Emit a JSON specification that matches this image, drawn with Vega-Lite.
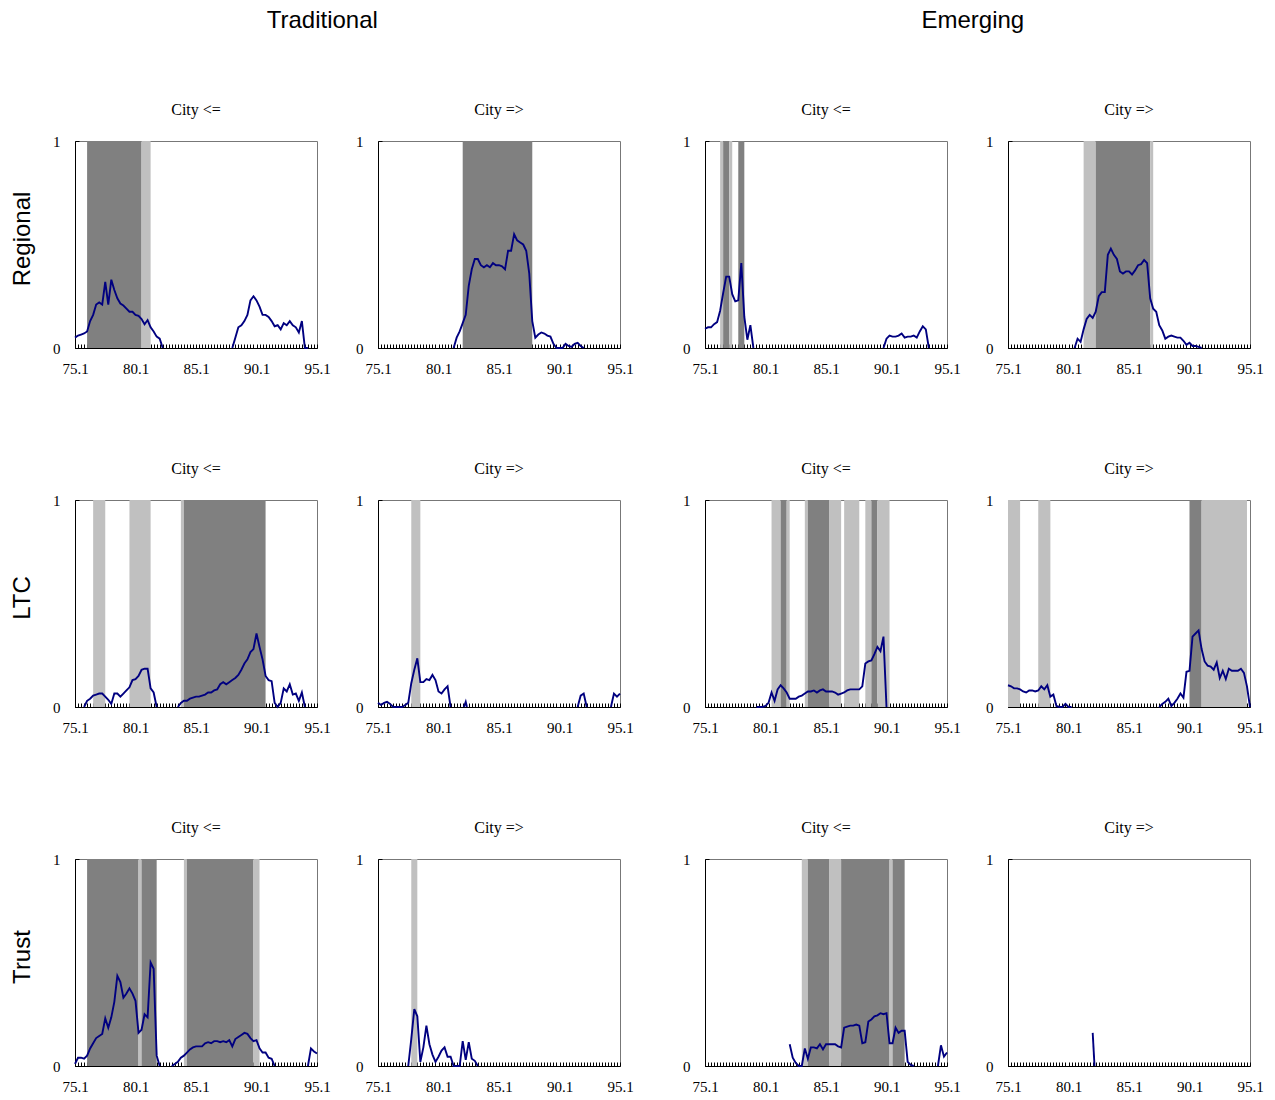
{
"$schema": "https://vega.github.io/schema/vega-lite/v6.json",
"padding": {"left": 11, "top": 8, "right": 5, "bottom": 5},
"background": "white",
"datasets": {
"shade": [
{"p":"a1","t":76.0,"t2":80.5,"k":"dark"},{"p":"a1","t":80.5,"t2":81.25,"k":"light"},
{"p":"a2","t":82.0,"t2":87.75,"k":"dark"},
{"p":"a3","t":76.25,"t2":76.5,"k":"light"},{"p":"a3","t":76.5,"t2":77.0,"k":"dark"},{"p":"a3","t":77.0,"t2":77.25,"k":"light"},{"p":"a3","t":77.75,"t2":78.25,"k":"dark"},
{"p":"a4","t":81.25,"t2":82.25,"k":"light"},{"p":"a4","t":82.25,"t2":86.75,"k":"dark"},{"p":"a4","t":86.75,"t2":87.0,"k":"light"},
{"p":"b1","t":76.5,"t2":77.5,"k":"light"},{"p":"b1","t":79.5,"t2":81.25,"k":"light"},{"p":"b1","t":83.75,"t2":84.0,"k":"light"},{"p":"b1","t":84.0,"t2":90.75,"k":"dark"},
{"p":"b2","t":77.75,"t2":78.5,"k":"light"},
{"p":"b3","t":80.5,"t2":81.25,"k":"light"},{"p":"b3","t":81.25,"t2":81.75,"k":"dark"},{"p":"b3","t":81.75,"t2":82.0,"k":"light"},{"p":"b3","t":83.25,"t2":83.5,"k":"light"},{"p":"b3","t":83.5,"t2":85.25,"k":"dark"},{"p":"b3","t":85.25,"t2":86.25,"k":"light"},{"p":"b3","t":86.5,"t2":87.75,"k":"light"},{"p":"b3","t":88.25,"t2":88.75,"k":"light"},{"p":"b3","t":88.75,"t2":89.25,"k":"dark"},{"p":"b3","t":89.25,"t2":90.25,"k":"light"},
{"p":"b4","t":75.0,"t2":76.0,"k":"light"},{"p":"b4","t":77.5,"t2":78.5,"k":"light"},{"p":"b4","t":90.0,"t2":91.0,"k":"dark"},{"p":"b4","t":91.0,"t2":94.75,"k":"light"},
{"p":"c1","t":76.0,"t2":80.25,"k":"dark"},{"p":"c1","t":80.25,"t2":80.5,"k":"light"},{"p":"c1","t":80.5,"t2":81.75,"k":"dark"},{"p":"c1","t":84.0,"t2":84.25,"k":"light"},{"p":"c1","t":84.25,"t2":89.75,"k":"dark"},{"p":"c1","t":89.75,"t2":90.25,"k":"light"},
{"p":"c2","t":77.75,"t2":78.25,"k":"light"},
{"p":"c3","t":83.0,"t2":83.5,"k":"light"},{"p":"c3","t":83.5,"t2":85.25,"k":"dark"},{"p":"c3","t":85.25,"t2":86.25,"k":"light"},{"p":"c3","t":86.25,"t2":90.25,"k":"dark"},{"p":"c3","t":90.25,"t2":90.5,"k":"light"},{"p":"c3","t":90.5,"t2":91.5,"k":"dark"}
],
"series": [
{"p":"a1","g":1,"t":75,"v":0.05},{"p":"a1","g":1,"t":75.25,"v":0.06},{"p":"a1","g":1,"t":75.5,"v":0.065},{"p":"a1","g":1,"t":75.75,"v":0.07},{"p":"a1","g":1,"t":76,"v":0.08},{"p":"a1","g":1,"t":76.25,"v":0.13},{"p":"a1","g":1,"t":76.5,"v":0.16},{"p":"a1","g":1,"t":76.75,"v":0.21},{"p":"a1","g":1,"t":77,"v":0.22},{"p":"a1","g":1,"t":77.25,"v":0.21},{"p":"a1","g":1,"t":77.5,"v":0.32},{"p":"a1","g":1,"t":77.75,"v":0.21},{"p":"a1","g":1,"t":78,"v":0.33},{"p":"a1","g":1,"t":78.25,"v":0.28},{"p":"a1","g":1,"t":78.5,"v":0.24},{"p":"a1","g":1,"t":78.75,"v":0.215},{"p":"a1","g":1,"t":79,"v":0.205},{"p":"a1","g":1,"t":79.25,"v":0.19},{"p":"a1","g":1,"t":79.5,"v":0.175},{"p":"a1","g":1,"t":79.75,"v":0.175},{"p":"a1","g":1,"t":80,"v":0.16},{"p":"a1","g":1,"t":80.25,"v":0.155},{"p":"a1","g":1,"t":80.5,"v":0.14},{"p":"a1","g":1,"t":80.75,"v":0.115},{"p":"a1","g":1,"t":81,"v":0.135},{"p":"a1","g":1,"t":81.25,"v":0.1},{"p":"a1","g":1,"t":81.5,"v":0.08},{"p":"a1","g":1,"t":81.75,"v":0.055},{"p":"a1","g":1,"t":82,"v":0.045},{"p":"a1","g":1,"t":82.25,"v":0},
{"p":"a1","g":2,"t":88,"v":0},{"p":"a1","g":2,"t":88.25,"v":0.05},{"p":"a1","g":2,"t":88.5,"v":0.1},{"p":"a1","g":2,"t":88.75,"v":0.11},{"p":"a1","g":2,"t":89,"v":0.13},{"p":"a1","g":2,"t":89.25,"v":0.16},{"p":"a1","g":2,"t":89.5,"v":0.23},{"p":"a1","g":2,"t":89.75,"v":0.25},{"p":"a1","g":2,"t":90,"v":0.23},{"p":"a1","g":2,"t":90.25,"v":0.2},{"p":"a1","g":2,"t":90.5,"v":0.16},{"p":"a1","g":2,"t":90.75,"v":0.16},{"p":"a1","g":2,"t":91,"v":0.15},{"p":"a1","g":2,"t":91.25,"v":0.13},{"p":"a1","g":2,"t":91.5,"v":0.105},{"p":"a1","g":2,"t":91.75,"v":0.11},{"p":"a1","g":2,"t":92,"v":0.09},{"p":"a1","g":2,"t":92.25,"v":0.12},{"p":"a1","g":2,"t":92.5,"v":0.11},{"p":"a1","g":2,"t":92.75,"v":0.13},{"p":"a1","g":2,"t":93,"v":0.11},{"p":"a1","g":2,"t":93.25,"v":0.1},{"p":"a1","g":2,"t":93.5,"v":0.075},{"p":"a1","g":2,"t":93.75,"v":0.13},{"p":"a1","g":2,"t":94,"v":0},{"p":"a1","g":2,"t":94.25,"v":0},
{"p":"a2","g":1,"t":81.25,"v":0},{"p":"a2","g":1,"t":81.5,"v":0.05},{"p":"a2","g":1,"t":81.75,"v":0.08},{"p":"a2","g":1,"t":82,"v":0.12},{"p":"a2","g":1,"t":82.25,"v":0.16},{"p":"a2","g":1,"t":82.5,"v":0.3},{"p":"a2","g":1,"t":82.75,"v":0.38},{"p":"a2","g":1,"t":83,"v":0.43},{"p":"a2","g":1,"t":83.25,"v":0.43},{"p":"a2","g":1,"t":83.5,"v":0.4},{"p":"a2","g":1,"t":83.75,"v":0.39},{"p":"a2","g":1,"t":84,"v":0.4},{"p":"a2","g":1,"t":84.25,"v":0.39},{"p":"a2","g":1,"t":84.5,"v":0.41},{"p":"a2","g":1,"t":84.75,"v":0.4},{"p":"a2","g":1,"t":85,"v":0.4},{"p":"a2","g":1,"t":85.25,"v":0.395},{"p":"a2","g":1,"t":85.5,"v":0.38},{"p":"a2","g":1,"t":85.75,"v":0.47},{"p":"a2","g":1,"t":86,"v":0.47},{"p":"a2","g":1,"t":86.25,"v":0.55},{"p":"a2","g":1,"t":86.5,"v":0.52},{"p":"a2","g":1,"t":86.75,"v":0.51},{"p":"a2","g":1,"t":87,"v":0.5},{"p":"a2","g":1,"t":87.25,"v":0.47},{"p":"a2","g":1,"t":87.5,"v":0.36},{"p":"a2","g":1,"t":87.75,"v":0.13},{"p":"a2","g":1,"t":88,"v":0.05},{"p":"a2","g":1,"t":88.25,"v":0.065},{"p":"a2","g":1,"t":88.5,"v":0.075},{"p":"a2","g":1,"t":88.75,"v":0.07},{"p":"a2","g":1,"t":89,"v":0.06},{"p":"a2","g":1,"t":89.25,"v":0.055},{"p":"a2","g":1,"t":89.5,"v":0.02},{"p":"a2","g":1,"t":89.75,"v":0},{"p":"a2","g":1,"t":90,"v":0},{"p":"a2","g":1,"t":90.25,"v":0},{"p":"a2","g":1,"t":90.5,"v":0.02},{"p":"a2","g":1,"t":90.75,"v":0.01},{"p":"a2","g":1,"t":91,"v":0.005},{"p":"a2","g":1,"t":91.25,"v":0.02},{"p":"a2","g":1,"t":91.5,"v":0.025},{"p":"a2","g":1,"t":91.75,"v":0.01},{"p":"a2","g":1,"t":92,"v":0},
{"p":"a3","g":1,"t":75,"v":0.093},{"p":"a3","g":1,"t":75.25,"v":0.1},{"p":"a3","g":1,"t":75.5,"v":0.1},{"p":"a3","g":1,"t":75.75,"v":0.115},{"p":"a3","g":1,"t":76,"v":0.125},{"p":"a3","g":1,"t":76.25,"v":0.18},{"p":"a3","g":1,"t":76.5,"v":0.265},{"p":"a3","g":1,"t":76.75,"v":0.345},{"p":"a3","g":1,"t":77,"v":0.345},{"p":"a3","g":1,"t":77.25,"v":0.26},{"p":"a3","g":1,"t":77.5,"v":0.225},{"p":"a3","g":1,"t":77.75,"v":0.23},{"p":"a3","g":1,"t":78,"v":0.41},{"p":"a3","g":1,"t":78.25,"v":0.15},{"p":"a3","g":1,"t":78.5,"v":0.04},{"p":"a3","g":1,"t":78.75,"v":0.11},{"p":"a3","g":1,"t":79,"v":0},
{"p":"a3","g":2,"t":89.75,"v":0},{"p":"a3","g":2,"t":90,"v":0.045},{"p":"a3","g":2,"t":90.25,"v":0.06},{"p":"a3","g":2,"t":90.5,"v":0.055},{"p":"a3","g":2,"t":90.75,"v":0.055},{"p":"a3","g":2,"t":91,"v":0.06},{"p":"a3","g":2,"t":91.25,"v":0.07},{"p":"a3","g":2,"t":91.5,"v":0.05},{"p":"a3","g":2,"t":91.75,"v":0.055},{"p":"a3","g":2,"t":92,"v":0.055},{"p":"a3","g":2,"t":92.25,"v":0.06},{"p":"a3","g":2,"t":92.5,"v":0.05},{"p":"a3","g":2,"t":92.75,"v":0.08},{"p":"a3","g":2,"t":93,"v":0.105},{"p":"a3","g":2,"t":93.25,"v":0.09},{"p":"a3","g":2,"t":93.5,"v":0},
{"p":"a4","g":1,"t":80.5,"v":0},{"p":"a4","g":1,"t":80.75,"v":0.045},{"p":"a4","g":1,"t":81,"v":0.03},{"p":"a4","g":1,"t":81.25,"v":0.09},{"p":"a4","g":1,"t":81.5,"v":0.14},{"p":"a4","g":1,"t":81.75,"v":0.16},{"p":"a4","g":1,"t":82,"v":0.145},{"p":"a4","g":1,"t":82.25,"v":0.175},{"p":"a4","g":1,"t":82.5,"v":0.25},{"p":"a4","g":1,"t":82.75,"v":0.27},{"p":"a4","g":1,"t":83,"v":0.27},{"p":"a4","g":1,"t":83.25,"v":0.45},{"p":"a4","g":1,"t":83.5,"v":0.48},{"p":"a4","g":1,"t":83.75,"v":0.45},{"p":"a4","g":1,"t":84,"v":0.43},{"p":"a4","g":1,"t":84.25,"v":0.37},{"p":"a4","g":1,"t":84.5,"v":0.36},{"p":"a4","g":1,"t":84.75,"v":0.37},{"p":"a4","g":1,"t":85,"v":0.37},{"p":"a4","g":1,"t":85.25,"v":0.355},{"p":"a4","g":1,"t":85.5,"v":0.375},{"p":"a4","g":1,"t":85.75,"v":0.4},{"p":"a4","g":1,"t":86,"v":0.405},{"p":"a4","g":1,"t":86.25,"v":0.425},{"p":"a4","g":1,"t":86.5,"v":0.41},{"p":"a4","g":1,"t":86.75,"v":0.24},{"p":"a4","g":1,"t":87,"v":0.19},{"p":"a4","g":1,"t":87.25,"v":0.175},{"p":"a4","g":1,"t":87.5,"v":0.11},{"p":"a4","g":1,"t":87.75,"v":0.085},{"p":"a4","g":1,"t":88,"v":0.045},{"p":"a4","g":1,"t":88.25,"v":0.055},{"p":"a4","g":1,"t":88.5,"v":0.06},{"p":"a4","g":1,"t":88.75,"v":0.055},{"p":"a4","g":1,"t":89,"v":0.05},{"p":"a4","g":1,"t":89.25,"v":0.05},{"p":"a4","g":1,"t":89.5,"v":0.035},{"p":"a4","g":1,"t":89.75,"v":0.015},{"p":"a4","g":1,"t":90,"v":0.025},{"p":"a4","g":1,"t":90.25,"v":0.01},{"p":"a4","g":1,"t":90.5,"v":0.01},{"p":"a4","g":1,"t":90.75,"v":0.005},{"p":"a4","g":1,"t":91,"v":0},
{"p":"b1","g":1,"t":75.75,"v":0},{"p":"b1","g":1,"t":76,"v":0.03},{"p":"b1","g":1,"t":76.25,"v":0.04},{"p":"b1","g":1,"t":76.5,"v":0.055},{"p":"b1","g":1,"t":76.75,"v":0.06},{"p":"b1","g":1,"t":77,"v":0.065},{"p":"b1","g":1,"t":77.25,"v":0.065},{"p":"b1","g":1,"t":77.5,"v":0.05},{"p":"b1","g":1,"t":77.75,"v":0.035},{"p":"b1","g":1,"t":78,"v":0.015},{"p":"b1","g":1,"t":78.25,"v":0.065},{"p":"b1","g":1,"t":78.5,"v":0.065},{"p":"b1","g":1,"t":78.75,"v":0.05},{"p":"b1","g":1,"t":79,"v":0.065},{"p":"b1","g":1,"t":79.25,"v":0.08},{"p":"b1","g":1,"t":79.5,"v":0.095},{"p":"b1","g":1,"t":79.75,"v":0.13},{"p":"b1","g":1,"t":80,"v":0.135},{"p":"b1","g":1,"t":80.25,"v":0.15},{"p":"b1","g":1,"t":80.5,"v":0.18},{"p":"b1","g":1,"t":80.75,"v":0.185},{"p":"b1","g":1,"t":81,"v":0.185},{"p":"b1","g":1,"t":81.25,"v":0.09},{"p":"b1","g":1,"t":81.5,"v":0.07},{"p":"b1","g":1,"t":81.75,"v":0},
{"p":"b1","g":2,"t":83.5,"v":0},{"p":"b1","g":2,"t":83.75,"v":0.02},{"p":"b1","g":2,"t":84,"v":0.03},{"p":"b1","g":2,"t":84.25,"v":0.03},{"p":"b1","g":2,"t":84.5,"v":0.04},{"p":"b1","g":2,"t":84.75,"v":0.045},{"p":"b1","g":2,"t":85,"v":0.05},{"p":"b1","g":2,"t":85.25,"v":0.05},{"p":"b1","g":2,"t":85.5,"v":0.055},{"p":"b1","g":2,"t":85.75,"v":0.06},{"p":"b1","g":2,"t":86,"v":0.07},{"p":"b1","g":2,"t":86.25,"v":0.07},{"p":"b1","g":2,"t":86.5,"v":0.08},{"p":"b1","g":2,"t":86.75,"v":0.085},{"p":"b1","g":2,"t":87,"v":0.11},{"p":"b1","g":2,"t":87.25,"v":0.12},{"p":"b1","g":2,"t":87.5,"v":0.11},{"p":"b1","g":2,"t":87.75,"v":0.12},{"p":"b1","g":2,"t":88,"v":0.13},{"p":"b1","g":2,"t":88.25,"v":0.14},{"p":"b1","g":2,"t":88.5,"v":0.155},{"p":"b1","g":2,"t":88.75,"v":0.18},{"p":"b1","g":2,"t":89,"v":0.21},{"p":"b1","g":2,"t":89.25,"v":0.23},{"p":"b1","g":2,"t":89.5,"v":0.265},{"p":"b1","g":2,"t":89.75,"v":0.28},{"p":"b1","g":2,"t":90,"v":0.355},{"p":"b1","g":2,"t":90.25,"v":0.29},{"p":"b1","g":2,"t":90.5,"v":0.23},{"p":"b1","g":2,"t":90.75,"v":0.15},{"p":"b1","g":2,"t":91,"v":0.13},{"p":"b1","g":2,"t":91.25,"v":0.125},{"p":"b1","g":2,"t":91.5,"v":0.02},{"p":"b1","g":2,"t":91.75,"v":0},{"p":"b1","g":2,"t":92,"v":0.02},{"p":"b1","g":2,"t":92.25,"v":0.09},{"p":"b1","g":2,"t":92.5,"v":0.075},{"p":"b1","g":2,"t":92.75,"v":0.11},{"p":"b1","g":2,"t":93,"v":0.06},{"p":"b1","g":2,"t":93.25,"v":0.065},{"p":"b1","g":2,"t":93.5,"v":0.03},{"p":"b1","g":2,"t":93.75,"v":0.07},{"p":"b1","g":2,"t":94,"v":0},
{"p":"b2","g":1,"t":75,"v":0.02},{"p":"b2","g":1,"t":75.25,"v":0.01},{"p":"b2","g":1,"t":75.5,"v":0.02},{"p":"b2","g":1,"t":75.75,"v":0.025},{"p":"b2","g":1,"t":76,"v":0.015},{"p":"b2","g":1,"t":76.25,"v":0},{"p":"b2","g":1,"t":76.5,"v":0},{"p":"b2","g":1,"t":76.75,"v":0},{"p":"b2","g":1,"t":77,"v":0},{"p":"b2","g":1,"t":77.25,"v":0.01},{"p":"b2","g":1,"t":77.5,"v":0.02},{"p":"b2","g":1,"t":77.75,"v":0.115},{"p":"b2","g":1,"t":78,"v":0.18},{"p":"b2","g":1,"t":78.25,"v":0.235},{"p":"b2","g":1,"t":78.5,"v":0.12},{"p":"b2","g":1,"t":78.75,"v":0.12},{"p":"b2","g":1,"t":79,"v":0.135},{"p":"b2","g":1,"t":79.25,"v":0.13},{"p":"b2","g":1,"t":79.5,"v":0.155},{"p":"b2","g":1,"t":79.75,"v":0.13},{"p":"b2","g":1,"t":80,"v":0.075},{"p":"b2","g":1,"t":80.25,"v":0.065},{"p":"b2","g":1,"t":80.5,"v":0.085},{"p":"b2","g":1,"t":80.75,"v":0.1},{"p":"b2","g":1,"t":81,"v":0},
{"p":"b2","g":2,"t":82.1,"v":0},{"p":"b2","g":2,"t":82.25,"v":0.025},{"p":"b2","g":2,"t":82.35,"v":0},
{"p":"b2","g":3,"t":91.5,"v":0},{"p":"b2","g":3,"t":91.75,"v":0.055},{"p":"b2","g":3,"t":92,"v":0.065},{"p":"b2","g":3,"t":92.25,"v":0},
{"p":"b2","g":4,"t":94.25,"v":0},{"p":"b2","g":4,"t":94.5,"v":0.065},{"p":"b2","g":4,"t":94.75,"v":0.05},{"p":"b2","g":4,"t":95,"v":0.065},
{"p":"b3","g":1,"t":79.25,"v":0},{"p":"b3","g":1,"t":79.5,"v":0},{"p":"b3","g":1,"t":79.75,"v":0},{"p":"b3","g":1,"t":80,"v":0.005},{"p":"b3","g":1,"t":80.25,"v":0.02},{"p":"b3","g":1,"t":80.5,"v":0.07},{"p":"b3","g":1,"t":80.75,"v":0.03},{"p":"b3","g":1,"t":81,"v":0.085},{"p":"b3","g":1,"t":81.25,"v":0.105},{"p":"b3","g":1,"t":81.5,"v":0.09},{"p":"b3","g":1,"t":81.75,"v":0.07},{"p":"b3","g":1,"t":82,"v":0.04},{"p":"b3","g":1,"t":82.25,"v":0.04},{"p":"b3","g":1,"t":82.5,"v":0.04},{"p":"b3","g":1,"t":82.75,"v":0.05},{"p":"b3","g":1,"t":83,"v":0.055},{"p":"b3","g":1,"t":83.25,"v":0.065},{"p":"b3","g":1,"t":83.5,"v":0.075},{"p":"b3","g":1,"t":83.75,"v":0.075},{"p":"b3","g":1,"t":84,"v":0.08},{"p":"b3","g":1,"t":84.25,"v":0.07},{"p":"b3","g":1,"t":84.5,"v":0.08},{"p":"b3","g":1,"t":84.75,"v":0.085},{"p":"b3","g":1,"t":85,"v":0.075},{"p":"b3","g":1,"t":85.25,"v":0.075},{"p":"b3","g":1,"t":85.5,"v":0.075},{"p":"b3","g":1,"t":85.75,"v":0.07},{"p":"b3","g":1,"t":86,"v":0.06},{"p":"b3","g":1,"t":86.25,"v":0.065},{"p":"b3","g":1,"t":86.5,"v":0.07},{"p":"b3","g":1,"t":86.75,"v":0.08},{"p":"b3","g":1,"t":87,"v":0.085},{"p":"b3","g":1,"t":87.25,"v":0.085},{"p":"b3","g":1,"t":87.5,"v":0.085},{"p":"b3","g":1,"t":87.75,"v":0.085},{"p":"b3","g":1,"t":88,"v":0.1},{"p":"b3","g":1,"t":88.25,"v":0.21},{"p":"b3","g":1,"t":88.5,"v":0.22},{"p":"b3","g":1,"t":88.75,"v":0.225},{"p":"b3","g":1,"t":89,"v":0.255},{"p":"b3","g":1,"t":89.25,"v":0.29},{"p":"b3","g":1,"t":89.5,"v":0.27},{"p":"b3","g":1,"t":89.75,"v":0.34},{"p":"b3","g":1,"t":90,"v":0},
{"p":"b4","g":1,"t":75,"v":0.105},{"p":"b4","g":1,"t":75.25,"v":0.1},{"p":"b4","g":1,"t":75.5,"v":0.09},{"p":"b4","g":1,"t":75.75,"v":0.09},{"p":"b4","g":1,"t":76,"v":0.085},{"p":"b4","g":1,"t":76.25,"v":0.075},{"p":"b4","g":1,"t":76.5,"v":0.07},{"p":"b4","g":1,"t":76.75,"v":0.08},{"p":"b4","g":1,"t":77,"v":0.08},{"p":"b4","g":1,"t":77.25,"v":0.075},{"p":"b4","g":1,"t":77.5,"v":0.08},{"p":"b4","g":1,"t":77.75,"v":0.1},{"p":"b4","g":1,"t":78,"v":0.085},{"p":"b4","g":1,"t":78.25,"v":0.105},{"p":"b4","g":1,"t":78.5,"v":0.05},{"p":"b4","g":1,"t":78.75,"v":0.06},{"p":"b4","g":1,"t":79,"v":0.005},{"p":"b4","g":1,"t":79.25,"v":0},{"p":"b4","g":1,"t":79.5,"v":0},{"p":"b4","g":1,"t":79.75,"v":0.015},{"p":"b4","g":1,"t":80,"v":0},{"p":"b4","g":1,"t":80.25,"v":0},
{"p":"b4","g":2,"t":87.5,"v":0},{"p":"b4","g":2,"t":87.75,"v":0.015},{"p":"b4","g":2,"t":88,"v":0.025},{"p":"b4","g":2,"t":88.25,"v":0.04},{"p":"b4","g":2,"t":88.5,"v":0.005},{"p":"b4","g":2,"t":88.75,"v":0.02},{"p":"b4","g":2,"t":89,"v":0.04},{"p":"b4","g":2,"t":89.25,"v":0.065},{"p":"b4","g":2,"t":89.5,"v":0.045},{"p":"b4","g":2,"t":89.75,"v":0.17},{"p":"b4","g":2,"t":90,"v":0.175},{"p":"b4","g":2,"t":90.25,"v":0.34},{"p":"b4","g":2,"t":90.5,"v":0.355},{"p":"b4","g":2,"t":90.75,"v":0.37},{"p":"b4","g":2,"t":91,"v":0.28},{"p":"b4","g":2,"t":91.25,"v":0.22},{"p":"b4","g":2,"t":91.5,"v":0.2},{"p":"b4","g":2,"t":91.75,"v":0.195},{"p":"b4","g":2,"t":92,"v":0.18},{"p":"b4","g":2,"t":92.25,"v":0.215},{"p":"b4","g":2,"t":92.5,"v":0.14},{"p":"b4","g":2,"t":92.75,"v":0.175},{"p":"b4","g":2,"t":93,"v":0.135},{"p":"b4","g":2,"t":93.25,"v":0.185},{"p":"b4","g":2,"t":93.5,"v":0.175},{"p":"b4","g":2,"t":93.75,"v":0.175},{"p":"b4","g":2,"t":94,"v":0.175},{"p":"b4","g":2,"t":94.25,"v":0.185},{"p":"b4","g":2,"t":94.5,"v":0.165},{"p":"b4","g":2,"t":94.75,"v":0.1},{"p":"b4","g":2,"t":95,"v":0},
{"p":"c1","g":1,"t":75,"v":0.01},{"p":"c1","g":1,"t":75.25,"v":0.04},{"p":"c1","g":1,"t":75.5,"v":0.04},{"p":"c1","g":1,"t":75.75,"v":0.035},{"p":"c1","g":1,"t":76,"v":0.05},{"p":"c1","g":1,"t":76.25,"v":0.085},{"p":"c1","g":1,"t":76.5,"v":0.11},{"p":"c1","g":1,"t":76.75,"v":0.135},{"p":"c1","g":1,"t":77,"v":0.145},{"p":"c1","g":1,"t":77.25,"v":0.155},{"p":"c1","g":1,"t":77.5,"v":0.23},{"p":"c1","g":1,"t":77.75,"v":0.185},{"p":"c1","g":1,"t":78,"v":0.235},{"p":"c1","g":1,"t":78.25,"v":0.31},{"p":"c1","g":1,"t":78.5,"v":0.435},{"p":"c1","g":1,"t":78.75,"v":0.405},{"p":"c1","g":1,"t":79,"v":0.33},{"p":"c1","g":1,"t":79.25,"v":0.35},{"p":"c1","g":1,"t":79.5,"v":0.375},{"p":"c1","g":1,"t":79.75,"v":0.35},{"p":"c1","g":1,"t":80,"v":0.315},{"p":"c1","g":1,"t":80.25,"v":0.16},{"p":"c1","g":1,"t":80.5,"v":0.175},{"p":"c1","g":1,"t":80.75,"v":0.25},{"p":"c1","g":1,"t":81,"v":0.235},{"p":"c1","g":1,"t":81.25,"v":0.5},{"p":"c1","g":1,"t":81.5,"v":0.47},{"p":"c1","g":1,"t":81.75,"v":0.05},{"p":"c1","g":1,"t":82,"v":0},
{"p":"c1","g":2,"t":83,"v":0},{"p":"c1","g":2,"t":83.25,"v":0.01},{"p":"c1","g":2,"t":83.5,"v":0.02},{"p":"c1","g":2,"t":83.75,"v":0.04},{"p":"c1","g":2,"t":84,"v":0.05},{"p":"c1","g":2,"t":84.25,"v":0.065},{"p":"c1","g":2,"t":84.5,"v":0.08},{"p":"c1","g":2,"t":84.75,"v":0.09},{"p":"c1","g":2,"t":85,"v":0.095},{"p":"c1","g":2,"t":85.25,"v":0.095},{"p":"c1","g":2,"t":85.5,"v":0.095},{"p":"c1","g":2,"t":85.75,"v":0.11},{"p":"c1","g":2,"t":86,"v":0.115},{"p":"c1","g":2,"t":86.25,"v":0.11},{"p":"c1","g":2,"t":86.5,"v":0.12},{"p":"c1","g":2,"t":86.75,"v":0.12},{"p":"c1","g":2,"t":87,"v":0.115},{"p":"c1","g":2,"t":87.25,"v":0.12},{"p":"c1","g":2,"t":87.5,"v":0.115},{"p":"c1","g":2,"t":87.75,"v":0.125},{"p":"c1","g":2,"t":88,"v":0.095},{"p":"c1","g":2,"t":88.25,"v":0.13},{"p":"c1","g":2,"t":88.5,"v":0.14},{"p":"c1","g":2,"t":88.75,"v":0.15},{"p":"c1","g":2,"t":89,"v":0.16},{"p":"c1","g":2,"t":89.25,"v":0.155},{"p":"c1","g":2,"t":89.5,"v":0.135},{"p":"c1","g":2,"t":89.75,"v":0.12},{"p":"c1","g":2,"t":90,"v":0.125},{"p":"c1","g":2,"t":90.25,"v":0.085},{"p":"c1","g":2,"t":90.5,"v":0.065},{"p":"c1","g":2,"t":90.75,"v":0.065},{"p":"c1","g":2,"t":91,"v":0.04},{"p":"c1","g":2,"t":91.25,"v":0.035},{"p":"c1","g":2,"t":91.5,"v":0},
{"p":"c1","g":3,"t":94.25,"v":0},{"p":"c1","g":3,"t":94.5,"v":0.085},{"p":"c1","g":3,"t":94.75,"v":0.07},{"p":"c1","g":3,"t":95,"v":0.06},
{"p":"c2","g":1,"t":77.5,"v":0},{"p":"c2","g":1,"t":77.75,"v":0.13},{"p":"c2","g":1,"t":78,"v":0.275},{"p":"c2","g":1,"t":78.25,"v":0.24},{"p":"c2","g":1,"t":78.5,"v":0.02},{"p":"c2","g":1,"t":78.75,"v":0.09},{"p":"c2","g":1,"t":79,"v":0.195},{"p":"c2","g":1,"t":79.25,"v":0.105},{"p":"c2","g":1,"t":79.5,"v":0.055},{"p":"c2","g":1,"t":79.75,"v":0.02},{"p":"c2","g":1,"t":80,"v":0.045},{"p":"c2","g":1,"t":80.25,"v":0.075},{"p":"c2","g":1,"t":80.5,"v":0.09},{"p":"c2","g":1,"t":80.75,"v":0.045},{"p":"c2","g":1,"t":81,"v":0.045},{"p":"c2","g":1,"t":81.25,"v":0},{"p":"c2","g":1,"t":81.5,"v":0},{"p":"c2","g":1,"t":81.75,"v":0},{"p":"c2","g":1,"t":82,"v":0.12},{"p":"c2","g":1,"t":82.25,"v":0.03},{"p":"c2","g":1,"t":82.5,"v":0.115},{"p":"c2","g":1,"t":82.75,"v":0.035},{"p":"c2","g":1,"t":83,"v":0.025},{"p":"c2","g":1,"t":83.25,"v":0},
{"p":"c3","g":1,"t":82,"v":0.105},{"p":"c3","g":1,"t":82.25,"v":0.04},{"p":"c3","g":1,"t":82.5,"v":0.015},{"p":"c3","g":1,"t":82.75,"v":0},{"p":"c3","g":1,"t":83,"v":0},{"p":"c3","g":1,"t":83.25,"v":0.085},{"p":"c3","g":1,"t":83.5,"v":0.035},{"p":"c3","g":1,"t":83.75,"v":0.09},{"p":"c3","g":1,"t":84,"v":0.09},{"p":"c3","g":1,"t":84.25,"v":0.085},{"p":"c3","g":1,"t":84.5,"v":0.105},{"p":"c3","g":1,"t":84.75,"v":0.08},{"p":"c3","g":1,"t":85,"v":0.105},{"p":"c3","g":1,"t":85.25,"v":0.105},{"p":"c3","g":1,"t":85.5,"v":0.105},{"p":"c3","g":1,"t":85.75,"v":0.105},{"p":"c3","g":1,"t":86,"v":0.095},{"p":"c3","g":1,"t":86.25,"v":0.09},{"p":"c3","g":1,"t":86.5,"v":0.185},{"p":"c3","g":1,"t":86.75,"v":0.19},{"p":"c3","g":1,"t":87,"v":0.195},{"p":"c3","g":1,"t":87.25,"v":0.195},{"p":"c3","g":1,"t":87.5,"v":0.2},{"p":"c3","g":1,"t":87.75,"v":0.195},{"p":"c3","g":1,"t":88,"v":0.11},{"p":"c3","g":1,"t":88.25,"v":0.115},{"p":"c3","g":1,"t":88.5,"v":0.215},{"p":"c3","g":1,"t":88.75,"v":0.225},{"p":"c3","g":1,"t":89,"v":0.24},{"p":"c3","g":1,"t":89.25,"v":0.245},{"p":"c3","g":1,"t":89.5,"v":0.255},{"p":"c3","g":1,"t":89.75,"v":0.25},{"p":"c3","g":1,"t":90,"v":0.255},{"p":"c3","g":1,"t":90.25,"v":0.11},{"p":"c3","g":1,"t":90.5,"v":0.11},{"p":"c3","g":1,"t":90.75,"v":0.185},{"p":"c3","g":1,"t":91,"v":0.16},{"p":"c3","g":1,"t":91.25,"v":0.17},{"p":"c3","g":1,"t":91.5,"v":0.17},{"p":"c3","g":1,"t":91.75,"v":0.02},{"p":"c3","g":1,"t":92,"v":0.005},{"p":"c3","g":1,"t":92.25,"v":0},
{"p":"c3","g":2,"t":94.25,"v":0},{"p":"c3","g":2,"t":94.5,"v":0.1},{"p":"c3","g":2,"t":94.75,"v":0.045},{"p":"c3","g":2,"t":95,"v":0.065},
{"p":"c4","g":1,"t":82,"v":0.16},{"p":"c4","g":1,"t":82.15,"v":0}
]
},
"config": {
  "view": {"stroke": "#777777", "strokeWidth": 1},
  "font": "Liberation Serif",
  "axis": {"grid": false, "domainColor": "black", "domainWidth": 1, "tickColor": "black", "tickWidth": 1, "tickSize": -4, "labelFont": "Liberation Serif", "labelFontSize": 15, "labelColor": "black", "zindex": 1},
  "axisX": {"labelPadding": 17, "labelOverlap": false, "labelFlush": false},
  "axisY": {"labelPadding": 19},
  "title": {"font": "Liberation Serif", "fontSize": 16, "fontWeight": "normal", "color": "black", "offset": 16},
  "line": {"color": "#000080", "strokeWidth": 1.9},
  "rect": {"strokeWidth": 0}
},
"spacing": 48,
"hconcat": [
{
 "title": {"text": "Traditional", "font": "Liberation Sans", "fontSize": 24, "fontWeight": "normal", "anchor": "middle", "offset": 69},
 "spacing": 83,
 "vconcat": [
  {"title": {"text": "Regional", "orient": "left", "font": "Liberation Sans", "fontSize": 24, "fontWeight": "normal", "anchor": "middle", "offset": 17}, "spacing": 24, "hconcat": [
   {"title": "City <=", "width": 242, "height": 207, "encoding": {"x": {"field": "t", "type": "quantitative", "scale": {"domain": [75, 95], "nice": false, "zero": false}, "axis": {"title": null, "values": {"expr": "sequence(75, 95.01, 0.25)"}, "labelExpr": "datum.value % 5 == 0 ? format(datum.value, 'd') + '.1' : ''"}}},
    "layer": [
     {"data": {"name": "shade"}, "transform": [{"filter": "datum.p == 'a1'"}], "mark": "rect", "encoding": {"x2": {"field": "t2"}, "color": {"field": "k", "type": "nominal", "scale": {"domain": ["dark", "light"], "range": ["#808080", "#c0c0c0"]}, "legend": null}}},
     {"data": {"name": "series"}, "transform": [{"filter": "datum.p == 'a1'"}], "mark": "line", "encoding": {"y": {"field": "v", "type": "quantitative", "scale": {"domain": [0, 1]}, "axis": {"title": null, "values": [0, 1], "format": "d"}}, "detail": {"field": "g", "type": "nominal"}}}
    ]},
   {"title": "City =>", "width": 242, "height": 207, "encoding": {"x": {"field": "t", "type": "quantitative", "scale": {"domain": [75, 95], "nice": false, "zero": false}, "axis": {"title": null, "values": {"expr": "sequence(75, 95.01, 0.25)"}, "labelExpr": "datum.value % 5 == 0 ? format(datum.value, 'd') + '.1' : ''"}}},
    "layer": [
     {"data": {"name": "shade"}, "transform": [{"filter": "datum.p == 'a2'"}], "mark": "rect", "encoding": {"x2": {"field": "t2"}, "color": {"field": "k", "type": "nominal", "scale": {"domain": ["dark", "light"], "range": ["#808080", "#c0c0c0"]}, "legend": null}}},
     {"data": {"name": "series"}, "transform": [{"filter": "datum.p == 'a2'"}], "mark": "line", "encoding": {"y": {"field": "v", "type": "quantitative", "scale": {"domain": [0, 1]}, "axis": {"title": null, "values": [0, 1], "format": "d"}}, "detail": {"field": "g", "type": "nominal"}}}
    ]}
  ]},
  {"title": {"text": "LTC", "orient": "left", "font": "Liberation Sans", "fontSize": 24, "fontWeight": "normal", "anchor": "middle", "offset": 17}, "spacing": 24, "hconcat": [
   {"title": "City <=", "width": 242, "height": 207, "encoding": {"x": {"field": "t", "type": "quantitative", "scale": {"domain": [75, 95], "nice": false, "zero": false}, "axis": {"title": null, "values": {"expr": "sequence(75, 95.01, 0.25)"}, "labelExpr": "datum.value % 5 == 0 ? format(datum.value, 'd') + '.1' : ''"}}},
    "layer": [
     {"data": {"name": "shade"}, "transform": [{"filter": "datum.p == 'b1'"}], "mark": "rect", "encoding": {"x2": {"field": "t2"}, "color": {"field": "k", "type": "nominal", "scale": {"domain": ["dark", "light"], "range": ["#808080", "#c0c0c0"]}, "legend": null}}},
     {"data": {"name": "series"}, "transform": [{"filter": "datum.p == 'b1'"}], "mark": "line", "encoding": {"y": {"field": "v", "type": "quantitative", "scale": {"domain": [0, 1]}, "axis": {"title": null, "values": [0, 1], "format": "d"}}, "detail": {"field": "g", "type": "nominal"}}}
    ]},
   {"title": "City =>", "width": 242, "height": 207, "encoding": {"x": {"field": "t", "type": "quantitative", "scale": {"domain": [75, 95], "nice": false, "zero": false}, "axis": {"title": null, "values": {"expr": "sequence(75, 95.01, 0.25)"}, "labelExpr": "datum.value % 5 == 0 ? format(datum.value, 'd') + '.1' : ''"}}},
    "layer": [
     {"data": {"name": "shade"}, "transform": [{"filter": "datum.p == 'b2'"}], "mark": "rect", "encoding": {"x2": {"field": "t2"}, "color": {"field": "k", "type": "nominal", "scale": {"domain": ["dark", "light"], "range": ["#808080", "#c0c0c0"]}, "legend": null}}},
     {"data": {"name": "series"}, "transform": [{"filter": "datum.p == 'b2'"}], "mark": "line", "encoding": {"y": {"field": "v", "type": "quantitative", "scale": {"domain": [0, 1]}, "axis": {"title": null, "values": [0, 1], "format": "d"}}, "detail": {"field": "g", "type": "nominal"}}}
    ]}
  ]},
  {"title": {"text": "Trust", "orient": "left", "font": "Liberation Sans", "fontSize": 24, "fontWeight": "normal", "anchor": "middle", "offset": 17}, "spacing": 24, "hconcat": [
   {"title": "City <=", "width": 242, "height": 207, "encoding": {"x": {"field": "t", "type": "quantitative", "scale": {"domain": [75, 95], "nice": false, "zero": false}, "axis": {"title": null, "values": {"expr": "sequence(75, 95.01, 0.25)"}, "labelExpr": "datum.value % 5 == 0 ? format(datum.value, 'd') + '.1' : ''"}}},
    "layer": [
     {"data": {"name": "shade"}, "transform": [{"filter": "datum.p == 'c1'"}], "mark": "rect", "encoding": {"x2": {"field": "t2"}, "color": {"field": "k", "type": "nominal", "scale": {"domain": ["dark", "light"], "range": ["#808080", "#c0c0c0"]}, "legend": null}}},
     {"data": {"name": "series"}, "transform": [{"filter": "datum.p == 'c1'"}], "mark": "line", "encoding": {"y": {"field": "v", "type": "quantitative", "scale": {"domain": [0, 1]}, "axis": {"title": null, "values": [0, 1], "format": "d"}}, "detail": {"field": "g", "type": "nominal"}}}
    ]},
   {"title": "City =>", "width": 242, "height": 207, "encoding": {"x": {"field": "t", "type": "quantitative", "scale": {"domain": [75, 95], "nice": false, "zero": false}, "axis": {"title": null, "values": {"expr": "sequence(75, 95.01, 0.25)"}, "labelExpr": "datum.value % 5 == 0 ? format(datum.value, 'd') + '.1' : ''"}}},
    "layer": [
     {"data": {"name": "shade"}, "transform": [{"filter": "datum.p == 'c2'"}], "mark": "rect", "encoding": {"x2": {"field": "t2"}, "color": {"field": "k", "type": "nominal", "scale": {"domain": ["dark", "light"], "range": ["#808080", "#c0c0c0"]}, "legend": null}}},
     {"data": {"name": "series"}, "transform": [{"filter": "datum.p == 'c2'"}], "mark": "line", "encoding": {"y": {"field": "v", "type": "quantitative", "scale": {"domain": [0, 1]}, "axis": {"title": null, "values": [0, 1], "format": "d"}}, "detail": {"field": "g", "type": "nominal"}}}
    ]}
  ]}
 ]
},
{
 "title": {"text": "Emerging", "font": "Liberation Sans", "fontSize": 24, "fontWeight": "normal", "anchor": "middle", "offset": 69},
 "spacing": 83,
 "vconcat": [
  {"spacing": 24, "hconcat": [
   {"title": "City <=", "width": 242, "height": 207, "encoding": {"x": {"field": "t", "type": "quantitative", "scale": {"domain": [75, 95], "nice": false, "zero": false}, "axis": {"title": null, "values": {"expr": "sequence(75, 95.01, 0.25)"}, "labelExpr": "datum.value % 5 == 0 ? format(datum.value, 'd') + '.1' : ''"}}},
    "layer": [
     {"data": {"name": "shade"}, "transform": [{"filter": "datum.p == 'a3'"}], "mark": "rect", "encoding": {"x2": {"field": "t2"}, "color": {"field": "k", "type": "nominal", "scale": {"domain": ["dark", "light"], "range": ["#808080", "#c0c0c0"]}, "legend": null}}},
     {"data": {"name": "series"}, "transform": [{"filter": "datum.p == 'a3'"}], "mark": "line", "encoding": {"y": {"field": "v", "type": "quantitative", "scale": {"domain": [0, 1]}, "axis": {"title": null, "values": [0, 1], "format": "d"}}, "detail": {"field": "g", "type": "nominal"}}}
    ]},
   {"title": "City =>", "width": 242, "height": 207, "encoding": {"x": {"field": "t", "type": "quantitative", "scale": {"domain": [75, 95], "nice": false, "zero": false}, "axis": {"title": null, "values": {"expr": "sequence(75, 95.01, 0.25)"}, "labelExpr": "datum.value % 5 == 0 ? format(datum.value, 'd') + '.1' : ''"}}},
    "layer": [
     {"data": {"name": "shade"}, "transform": [{"filter": "datum.p == 'a4'"}], "mark": "rect", "encoding": {"x2": {"field": "t2"}, "color": {"field": "k", "type": "nominal", "scale": {"domain": ["dark", "light"], "range": ["#808080", "#c0c0c0"]}, "legend": null}}},
     {"data": {"name": "series"}, "transform": [{"filter": "datum.p == 'a4'"}], "mark": "line", "encoding": {"y": {"field": "v", "type": "quantitative", "scale": {"domain": [0, 1]}, "axis": {"title": null, "values": [0, 1], "format": "d"}}, "detail": {"field": "g", "type": "nominal"}}}
    ]}
  ]},
  {"spacing": 24, "hconcat": [
   {"title": "City <=", "width": 242, "height": 207, "encoding": {"x": {"field": "t", "type": "quantitative", "scale": {"domain": [75, 95], "nice": false, "zero": false}, "axis": {"title": null, "values": {"expr": "sequence(75, 95.01, 0.25)"}, "labelExpr": "datum.value % 5 == 0 ? format(datum.value, 'd') + '.1' : ''"}}},
    "layer": [
     {"data": {"name": "shade"}, "transform": [{"filter": "datum.p == 'b3'"}], "mark": "rect", "encoding": {"x2": {"field": "t2"}, "color": {"field": "k", "type": "nominal", "scale": {"domain": ["dark", "light"], "range": ["#808080", "#c0c0c0"]}, "legend": null}}},
     {"data": {"name": "series"}, "transform": [{"filter": "datum.p == 'b3'"}], "mark": "line", "encoding": {"y": {"field": "v", "type": "quantitative", "scale": {"domain": [0, 1]}, "axis": {"title": null, "values": [0, 1], "format": "d"}}, "detail": {"field": "g", "type": "nominal"}}}
    ]},
   {"title": "City =>", "width": 242, "height": 207, "encoding": {"x": {"field": "t", "type": "quantitative", "scale": {"domain": [75, 95], "nice": false, "zero": false}, "axis": {"title": null, "values": {"expr": "sequence(75, 95.01, 0.25)"}, "labelExpr": "datum.value % 5 == 0 ? format(datum.value, 'd') + '.1' : ''"}}},
    "layer": [
     {"data": {"name": "shade"}, "transform": [{"filter": "datum.p == 'b4'"}], "mark": "rect", "encoding": {"x2": {"field": "t2"}, "color": {"field": "k", "type": "nominal", "scale": {"domain": ["dark", "light"], "range": ["#808080", "#c0c0c0"]}, "legend": null}}},
     {"data": {"name": "series"}, "transform": [{"filter": "datum.p == 'b4'"}], "mark": "line", "encoding": {"y": {"field": "v", "type": "quantitative", "scale": {"domain": [0, 1]}, "axis": {"title": null, "values": [0, 1], "format": "d"}}, "detail": {"field": "g", "type": "nominal"}}}
    ]}
  ]},
  {"spacing": 24, "hconcat": [
   {"title": "City <=", "width": 242, "height": 207, "encoding": {"x": {"field": "t", "type": "quantitative", "scale": {"domain": [75, 95], "nice": false, "zero": false}, "axis": {"title": null, "values": {"expr": "sequence(75, 95.01, 0.25)"}, "labelExpr": "datum.value % 5 == 0 ? format(datum.value, 'd') + '.1' : ''"}}},
    "layer": [
     {"data": {"name": "shade"}, "transform": [{"filter": "datum.p == 'c3'"}], "mark": "rect", "encoding": {"x2": {"field": "t2"}, "color": {"field": "k", "type": "nominal", "scale": {"domain": ["dark", "light"], "range": ["#808080", "#c0c0c0"]}, "legend": null}}},
     {"data": {"name": "series"}, "transform": [{"filter": "datum.p == 'c3'"}], "mark": "line", "encoding": {"y": {"field": "v", "type": "quantitative", "scale": {"domain": [0, 1]}, "axis": {"title": null, "values": [0, 1], "format": "d"}}, "detail": {"field": "g", "type": "nominal"}}}
    ]},
   {"title": "City =>", "width": 242, "height": 207, "encoding": {"x": {"field": "t", "type": "quantitative", "scale": {"domain": [75, 95], "nice": false, "zero": false}, "axis": {"title": null, "values": {"expr": "sequence(75, 95.01, 0.25)"}, "labelExpr": "datum.value % 5 == 0 ? format(datum.value, 'd') + '.1' : ''"}}},
    "layer": [
     {"data": {"name": "shade"}, "transform": [{"filter": "datum.p == 'c4'"}], "mark": "rect", "encoding": {"x2": {"field": "t2"}, "color": {"field": "k", "type": "nominal", "scale": {"domain": ["dark", "light"], "range": ["#808080", "#c0c0c0"]}, "legend": null}}},
     {"data": {"name": "series"}, "transform": [{"filter": "datum.p == 'c4'"}], "mark": "line", "encoding": {"y": {"field": "v", "type": "quantitative", "scale": {"domain": [0, 1]}, "axis": {"title": null, "values": [0, 1], "format": "d"}}, "detail": {"field": "g", "type": "nominal"}}}
    ]}
  ]}
 ]
}
]
}
